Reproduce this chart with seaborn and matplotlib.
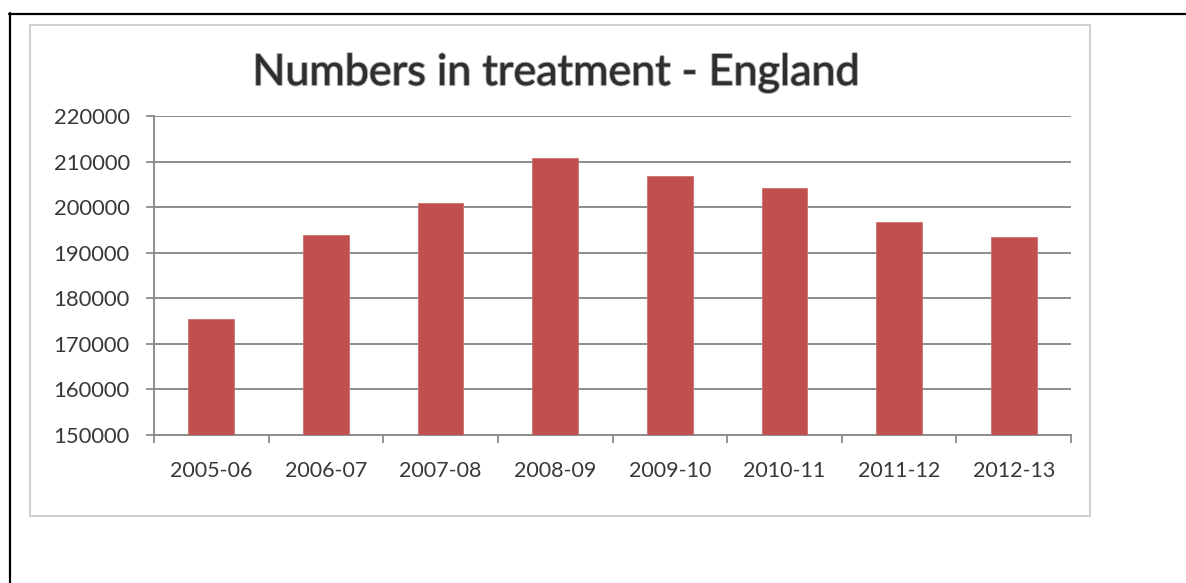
import numpy as np
import matplotlib
matplotlib.use("Agg")
import matplotlib.pyplot as plt
import matplotlib.patheffects as pe
from matplotlib.patches import Rectangle
from matplotlib.lines import Line2D
import seaborn as sns

# Data
years = ["2005-06", "2006-07", "2007-08", "2008-09",
         "2009-10", "2010-11", "2011-12", "2012-13"]
in_treatment = [175500, 193900, 200800, 210700, 206800, 204200, 196700, 193500]
y_ticks = [150000, 160000, 170000, 180000, 190000, 200000, 210000, 220000]
title = "Numbers in treatment - England"

sns.set_theme(style="white")
plt.rcParams["font.family"] = ["Lato", "DejaVu Sans"]

W, H = 1186, 583
fig = plt.figure(figsize=(W / 100, H / 100), dpi=100)
fig.patch.set_facecolor("white")

# outer frame: top and left black rules
fig.add_artist(Line2D([9 / W, 1.0], [1 - 13.5 / H, 1 - 13.5 / H],
                      transform=fig.transFigure, color="black", lw=1.6))
fig.add_artist(Line2D([9.5 / W, 9.5 / W], [0, 1 - 13 / H],
                      transform=fig.transFigure, color="black", lw=1.6))

# chart area box
fig.add_artist(Rectangle((30 / W, 1 - 516 / H), 1060 / W, 491 / H,
                         transform=fig.transFigure, fill=False,
                         edgecolor="#d0d0d0", lw=1.4))

ax = fig.add_axes([154 / W, 1 - 435 / H, (1071 - 154) / W, (435 - 116) / H])

sns.barplot(x=years, y=in_treatment, color="#C0504D", width=0.4,
            saturation=1, edgecolor="#cf6f6c", linewidth=0.6, ax=ax, zorder=3)

ax.set_ylim(y_ticks[0], y_ticks[-1])
ax.set_xlim(-0.5, len(years) - 0.5)
ax.set_yticks(y_ticks)
ax.set_yticklabels([str(v) for v in y_ticks])
ax.set_xticks(np.arange(len(years)))
ax.set_xticklabels(years)
ax.set_xticks(np.arange(-0.5, len(years), 1.0), minor=True)
ax.set_xlabel("")
ax.set_ylabel("")

grid_c = "#8c8c8c"
ax.yaxis.grid(True, color=grid_c, lw=1.4, zorder=0)
ax.xaxis.grid(False)
ax.set_axisbelow(True)
for s in ["top", "right"]:
    ax.spines[s].set_visible(False)
for s in ["left", "bottom"]:
    ax.spines[s].set_color(grid_c)
    ax.spines[s].set_linewidth(1.4)

label_c = "#383838"
ax.tick_params(axis="y", which="major", direction="out", length=5.5,
               width=1.3, color=grid_c, pad=12, labelsize=15.8, labelcolor=label_c,
               left=True)
ax.tick_params(axis="x", which="major", length=0, pad=19,
               labelsize=15.5, labelcolor=label_c, bottom=True)
ax.tick_params(axis="x", which="minor", direction="out", length=5.5,
               width=1.3, color=grid_c, bottom=True)

fig.text(555 / W, 1 - 73 / H, title, ha="center", va="center",
         fontsize=31, color="#2e2e2e",
         path_effects=[pe.withStroke(linewidth=1.6, foreground="#a8a8a8"),
                       pe.Normal()])

fig.savefig("out.png", dpi=100, facecolor="white")
